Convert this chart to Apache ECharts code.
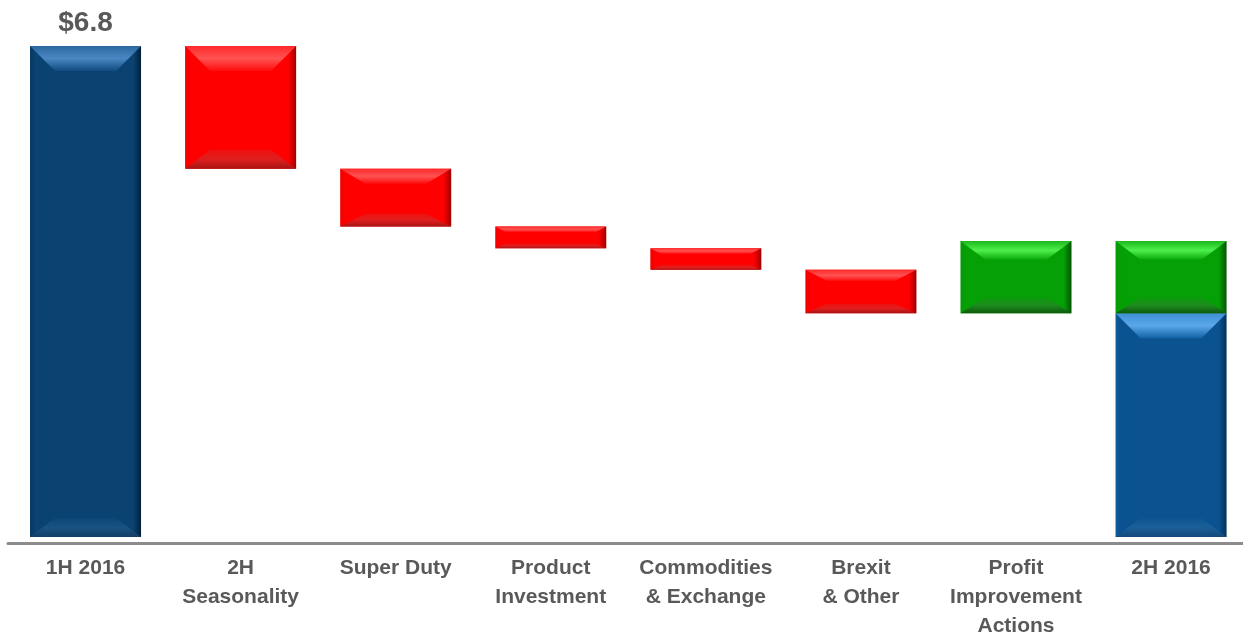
<!DOCTYPE html>
<html>
<head>
<meta charset="utf-8">
<script src="https://cdn.jsdelivr.net/npm/echarts@6/dist/echarts.min.js"></script>
<style>
html,body{margin:0;padding:0;background:#fff;}
#chart{width:1243px;height:637px;}
</style>
</head>
<body>
<div id="chart"></div>
<script>
// ---- data ----
const categories = ['1H 2016', '2H\nSeasonality', 'Super Duty', 'Product\nInvestment', 'Commodities\n& Exchange', 'Brexit\n& Other', 'Profit\nImprovement\nActions', '2H 2016'];
const startValue = 6.8;                          // 1H 2016
const deltas = [-1.7, -0.8, -0.3, -0.3, -0.6, 1.0]; // walk steps
const endStack = [3.1, 1.0];                     // 2H 2016: base + improvement
const startLabel = '$6.8';

// ---- palettes ----
const PAL = {
  blue1: {main:'#0a4272', edgeL:'#083760', edgeR:'#031f38', top:['#2c67a0','#4a87c2','#0f4a80'], bot:['#0c4676','#1a5283','#123e66']},
  blue2: {main:'#0a5290', edgeL:'#0d5a9c', edgeR:'#04305a', top:['#3f8fd6','#5aa8ea','#1262a6'], bot:['#0c5592','#1b5f98','#13497a']},
  red:   {main:'#ff0000', edgeL:'#f00000', edgeR:'#a00000', top:['#ff2a2a','#ff5252','#ff0c0c'], bot:['#f01010','#e01e1e','#a81414']},
  green: {main:'#05a005', edgeL:'#069a06', edgeR:'#035503', top:['#1cb81c','#4cf04c','#0aa80a'], bot:['#0a9a0a','#1e8c1e','#0d5a0d']}
};

// ---- build bar ranges from the values ----
const items = [];
items.push([0, 0, startValue, 'blue1', startLabel]);
let cur = startValue;
deltas.forEach((d, i) => {
  const nxt = +(cur + d).toFixed(2);
  items.push([i + 1, Math.min(cur, nxt), Math.max(cur, nxt), d < 0 ? 'red' : 'green', '']);
  cur = nxt;
});
items.push([7, 0, endStack[0], 'blue2', '']);
items.push([7, endStack[0], endStack[0] + endStack[1], 'green', '']);

function vgrad(stops){ return new echarts.graphic.LinearGradient(0,0,0,1, stops.map((c,i)=>({offset:i/(stops.length-1), color:c}))); }

function renderItem(params, api){
  const idx = api.value(0), lo = api.value(1), hi = api.value(2);
  const key = items[params.dataIndex][3];
  const label = items[params.dataIndex][4];
  const pal = PAL[key];
  const pTop = api.coord([idx, hi]);
  const pBot = api.coord([idx, lo]);
  const bw = api.size([1, 0])[0] * 0.716;
  const x0 = pTop[0] - bw/2, x1 = pTop[0] + bw/2;
  const y0 = pTop[1], y1 = pBot[1];
  const h = y1 - y0;
  const bt = Math.min(25, h*0.26), bb = Math.min(19, h*0.22), bs = Math.min(25, h*0.5);
  const children = [
    {type:'rect', shape:{x:x0, y:y0, width:bw, height:h},
      style:{fill:new echarts.graphic.LinearGradient(0,0,1,0,[
        {offset:0, color:pal.edgeL},{offset:0.05, color:pal.main},{offset:0.93, color:pal.main},{offset:1, color:pal.edgeR}])}},
    {type:'polygon', shape:{points:[[x0,y0],[x1,y0],[x1-bs,y0+bt],[x0+bs,y0+bt]]},
      style:{fill:vgrad(pal.top)}},
    {type:'polygon', shape:{points:[[x0,y1],[x1,y1],[x1-bs,y1-bb],[x0+bs,y1-bb]]},
      style:{fill:vgrad(pal.bot)}}
  ];
  if (label) {
    children.push({type:'text', style:{text:label, x:pTop[0], y:y0-23, textAlign:'center', textVerticalAlign:'middle',
      fill:'#595959', font:'bold 28px "Liberation Sans", Arial, sans-serif'}});
  }
  return {type:'group', children};
}

const chart = echarts.init(document.getElementById('chart'), null, {renderer:'canvas'});
chart.setOption({
  animation:false,
  grid:{left:8, top:46, width:1240.6, height:497, containLabel:false, outerBoundsMode:'none'},
  xAxis:{type:'category', data:categories,
    axisLine:{show:true, onZero:false, lineStyle:{color:'#8c8c8c', width:3}},
    axisTick:{show:false},
    axisLabel:{interval:0, margin:11, color:'#595959', fontWeight:'bold', fontSize:21, lineHeight:29,
      fontFamily:'"Liberation Sans", Arial, sans-serif'}},
  yAxis:{type:'value', min:-0.083, max:6.8, show:false, splitLine:{show:false}},
  series:[{type:'custom', renderItem, clip:false,
    encode:{x:0, y:[1,2]},
    data:items.map(it => [it[0], it[1], it[2]])}]
});
</script>
</body>
</html>
